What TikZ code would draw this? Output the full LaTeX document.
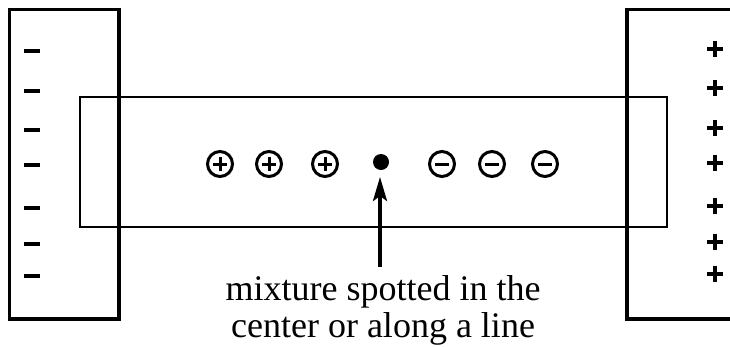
\documentclass[tikz,border=0pt]{standalone}
\usepackage{fontspec}
\setmainfont{Liberation Serif}
\usetikzlibrary{arrows.meta}
\tikzset{
  frame/.style={draw, line width=3.6pt},
  strip/.style={draw, line width=2.8pt},
  cplus/.style={circle, draw, line width=3pt, minimum size=25pt, inner sep=0pt,
    path picture={\draw[line width=3pt] ([xshift=-7pt]path picture bounding box.center) -- ([xshift=7pt]path picture bounding box.center);
                  \draw[line width=3pt] ([yshift=-7pt]path picture bounding box.center) -- ([yshift=7pt]path picture bounding box.center);}},
  cminus/.style={circle, draw, line width=3pt, minimum size=25pt, inner sep=0pt,
    path picture={\draw[line width=3pt] ([xshift=-7pt]path picture bounding box.center) -- ([xshift=7pt]path picture bounding box.center);}},
  minussign/.style={line width=3.5pt},
  plussign/.style={line width=3.8pt},
}
\begin{document}
\begin{tikzpicture}[x=1pt,y=-1pt]
\useasboundingbox (0,0) rectangle (730,346);
\clip (0,0) rectangle (730,346);
% electrodes
\draw[frame] (9.5,9.5) rectangle (119,319);
\draw[frame] (627,9.5) rectangle (745,319);
% strip
\draw[strip] (80,97) rectangle (667,227);
% minus signs on left electrode
\foreach \y in {51,91,130,165,208,244,276}
  \draw[minussign] (24,\y) -- (40,\y);
% plus signs on right electrode
\foreach \y in {49,88,128,163,206,242,274}
  {\draw[plussign] (707,\y) -- (723,\y);
   \draw[plussign] (715,\y-8) -- (715,\y+8);}
% ions
\node[cplus] (p1) at (220,164) {};
\node[cplus] (p2) at (269,164) {};
\node[cplus] (p3) at (325,164) {};
\node[circle, fill, minimum size=16pt, inner sep=0pt] (dot) at (381,162) {};
\node[cminus] (m1) at (442,164) {};
\node[cminus] (m2) at (492,164) {};
\node[cminus] (m3) at (545,164) {};
% label and arrow
\node[font=\fontsize{36}{37}\selectfont, align=center, inner sep=0pt, anchor=north] (lbl) at (383,275)
  {mixture spotted in the\\center or along a line};
\coordinate (tail) at (380,267);
\coordinate (tip) at (380,177);
\draw[line width=3.5pt, -{Stealth[length=24pt,width=14pt,inset=5pt]}] (tail) -- (tip);
\end{tikzpicture}
\end{document}
